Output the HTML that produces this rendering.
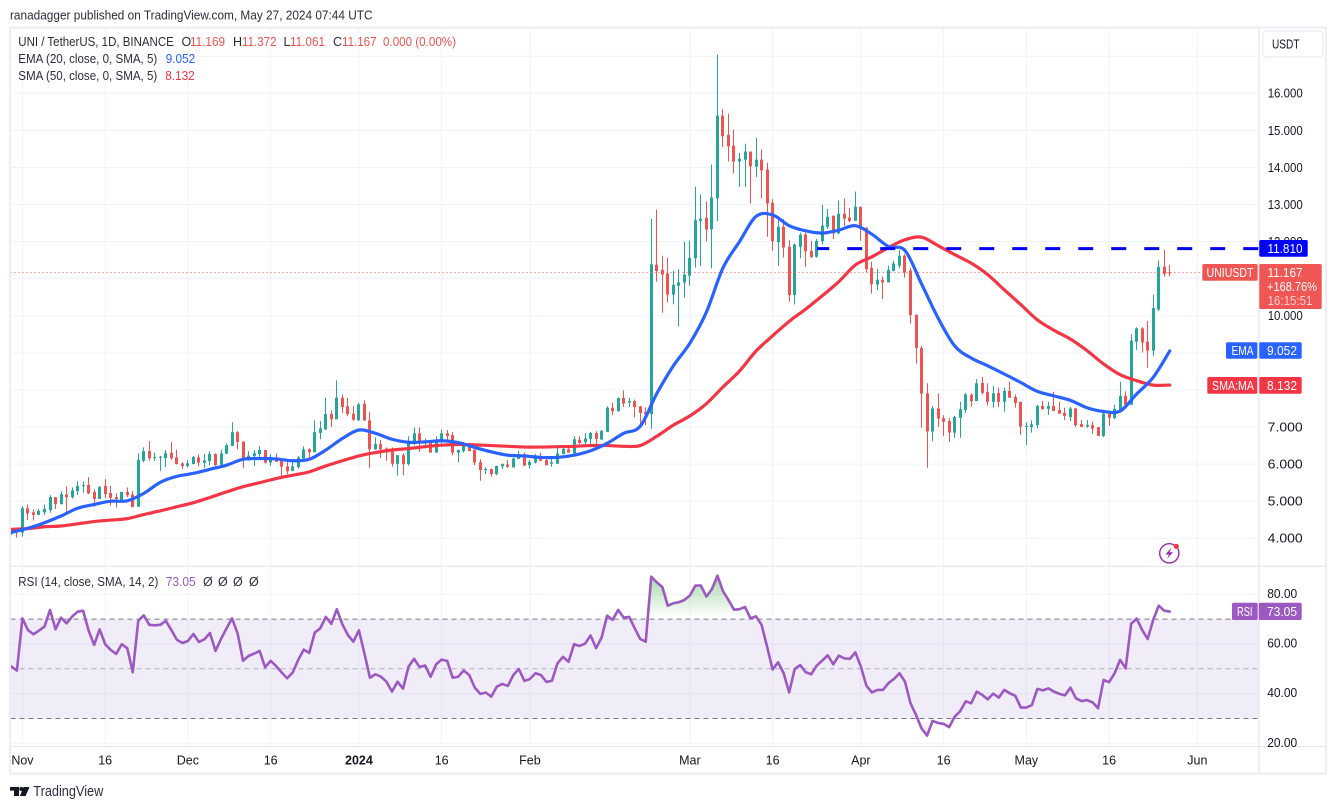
<!DOCTYPE html>
<html lang="en">
<head>
<meta charset="utf-8">
<title>UNI / TetherUS chart</title>
<style>
html,body{margin:0;padding:0;background:#fff;}
body{width:1337px;height:809px;overflow:hidden;}
svg{display:block;font-family:"Liberation Sans","DejaVu Sans",sans-serif;}
</style>
</head>
<body>
<svg id="chart" xmlns="http://www.w3.org/2000/svg" width="1337" height="809" viewBox="0 0 1337 809">
  <defs>
    <clipPath id="plot-clip"><rect x="10.5" y="28" width="1248.5" height="538"/></clipPath>
    <clipPath id="rsi-clip"><rect x="10.5" y="567" width="1248.5" height="179"/></clipPath>
    <clipPath id="ob-clip"><rect x="10.5" y="567" width="1248.5" height="52"/></clipPath>
    <clipPath id="os-clip"><rect x="10.5" y="718.5" width="1248.5" height="27"/></clipPath>
    <linearGradient id="ob-grad" gradientUnits="userSpaceOnUse" x1="0" y1="575" x2="0" y2="617">
      <stop offset="0" stop-color="#4caf50" stop-opacity="0.5"/>
      <stop offset="1" stop-color="#4caf50" stop-opacity="0"/>
    </linearGradient>
    <linearGradient id="os-grad" gradientUnits="userSpaceOnUse" x1="0" y1="719" x2="0" y2="740">
      <stop offset="0" stop-color="#ef5350" stop-opacity="0"/>
      <stop offset="1" stop-color="#ef5350" stop-opacity="0.2"/>
    </linearGradient>
  </defs>

  <text x="10" y="19.5" font-size="13" fill="#2a2e39" textLength="362.5" lengthAdjust="spacingAndGlyphs">ranadagger published on TradingView.com, May 27, 2024 07:44 UTC</text>

  <g id="grid"></g>

  <rect x="10.5" y="619.1" width="1248.5" height="99.4" fill="#7e57c2" fill-opacity="0.11"/>
  <g id="rsi-levels"></g>

  <g id="candles" clip-path="url(#plot-clip)"></g>
  <g id="lines" clip-path="url(#plot-clip)"></g>
  <g id="annotations" clip-path="url(#plot-clip)"></g>
  <g id="rsi" clip-path="url(#rsi-clip)"></g>

  <rect x="10" y="27.5" width="1316" height="746" fill="none" stroke="#eceef4" stroke-width="2"/>
  <line x1="1259" y1="28" x2="1259" y2="773" stroke="#e0e3eb" stroke-width="1"/>
  <line x1="10" y1="566.2" x2="1326" y2="566.2" stroke="#e0e3eb" stroke-width="1"/>
  <line x1="10" y1="746.6" x2="1326" y2="746.6" stroke="#e0e3eb" stroke-width="1"/>

  <g id="price-axis"></g>
  <g id="rsi-axis"></g>
  <g id="time-axis"></g>

  <g>
    <rect x="1263" y="31" width="60" height="26" rx="4" fill="#fff" stroke="#eceef4" stroke-width="1.4"/>
    <text x="1272" y="48.5" font-size="12.5" fill="#131722" textLength="27.5" lengthAdjust="spacingAndGlyphs">USDT</text>
  </g>

  <g font-size="12.5">
    <text x="18.3" y="46" fill="#2a2e39" textLength="155.5" lengthAdjust="spacingAndGlyphs">UNI / TetherUS, 1D, BINANCE</text>
    <text x="181.5" y="46" fill="#2a2e39">O</text><text x="190" y="46" fill="#ef5350" textLength="35" lengthAdjust="spacingAndGlyphs">11.169</text>
    <text x="233" y="46" fill="#2a2e39">H</text><text x="242" y="46" fill="#ef5350" textLength="34.5" lengthAdjust="spacingAndGlyphs">11.372</text>
    <text x="283.5" y="46" fill="#2a2e39">L</text><text x="290" y="46" fill="#ef5350" textLength="35" lengthAdjust="spacingAndGlyphs">11.061</text>
    <text x="333" y="46" fill="#2a2e39">C</text><text x="342" y="46" fill="#ef5350" textLength="34.5" lengthAdjust="spacingAndGlyphs">11.167</text>
    <text x="383" y="46" fill="#ef5350" textLength="73" lengthAdjust="spacingAndGlyphs">0.000 (0.00%)</text>
  </g>
  <g font-size="12.5">
    <text x="18.3" y="63" fill="#2a2e39" textLength="139" lengthAdjust="spacingAndGlyphs">EMA (20, close, 0, SMA, 5)</text>
    <text x="165.7" y="63" fill="#2962ff" textLength="29.5" lengthAdjust="spacingAndGlyphs">9.052</text>
  </g>
  <g font-size="12.5">
    <text x="18.3" y="80" fill="#2a2e39" textLength="139" lengthAdjust="spacingAndGlyphs">SMA (50, close, 0, SMA, 5)</text>
    <text x="165.2" y="80" fill="#f23645" textLength="29.5" lengthAdjust="spacingAndGlyphs">8.132</text>
  </g>
  <g font-size="12.5">
    <text x="18.3" y="586" fill="#2a2e39" textLength="140" lengthAdjust="spacingAndGlyphs">RSI (14, close, SMA, 14, 2)</text>
    <text x="165.7" y="586" fill="#9c59c1" textLength="30" lengthAdjust="spacingAndGlyphs">73.05</text>
    <text x="203" y="586" fill="#2a2e39">Ø</text><text x="218" y="586" fill="#2a2e39">Ø</text><text x="233" y="586" fill="#2a2e39">Ø</text><text x="249" y="586" fill="#2a2e39">Ø</text>
  </g>

  <g>
    <rect x="1259.3" y="240" width="48.4" height="16.7" rx="1.5" fill="#0000ff"/>
    <text x="1267.5" y="253" font-size="12.5" fill="#fff" textLength="35" lengthAdjust="spacingAndGlyphs">11.810</text>
  </g>
  <g>
    <rect x="1202.3" y="264" width="55.4" height="16.7" rx="1.5" fill="#f05654"/>
    <text x="1206.5" y="276.8" font-size="12.5" fill="#fff" textLength="47" lengthAdjust="spacingAndGlyphs">UNIUSDT</text>
  </g>
  <g>
    <rect x="1259.3" y="264" width="62.4" height="45" rx="1.5" fill="#f05654"/>
    <text x="1267.5" y="276.8" font-size="12.5" fill="#fff" textLength="35" lengthAdjust="spacingAndGlyphs">11.167</text>
    <text x="1267" y="291" font-size="12.5" fill="#fff" textLength="50" lengthAdjust="spacingAndGlyphs">+168.76%</text>
    <text x="1267.5" y="305" font-size="12.5" fill="#fbd0cf" textLength="45" lengthAdjust="spacingAndGlyphs">16:15:51</text>
  </g>
  <g>
    <rect x="1226" y="342.3" width="31.4" height="16.4" rx="1.5" fill="#2962ff"/>
    <rect x="1259.3" y="342.3" width="42.4" height="16.4" rx="1.5" fill="#2962ff"/>
    <text x="1231.5" y="355" font-size="12.5" fill="#fff" textLength="22" lengthAdjust="spacingAndGlyphs">EMA</text>
    <text x="1267" y="355" font-size="12.5" fill="#fff" textLength="30" lengthAdjust="spacingAndGlyphs">9.052</text>
  </g>
  <g>
    <rect x="1207.3" y="377" width="50" height="16.7" rx="1.5" fill="#f23645"/>
    <rect x="1259.3" y="377" width="42.4" height="16.7" rx="1.5" fill="#f23645"/>
    <text x="1212" y="389.8" font-size="12.5" fill="#fff" textLength="42" lengthAdjust="spacingAndGlyphs">SMA:MA</text>
    <text x="1267" y="389.8" font-size="12.5" fill="#fff" textLength="30" lengthAdjust="spacingAndGlyphs">8.132</text>
  </g>
  <g>
    <rect x="1232" y="602.7" width="25.7" height="17.3" rx="1.5" fill="#9c59c1"/>
    <rect x="1258.7" y="602.7" width="43" height="17.3" rx="1.5" fill="#9c59c1"/>
    <text x="1237" y="616" font-size="12.5" fill="#fff" textLength="15.5" lengthAdjust="spacingAndGlyphs">RSI</text>
    <text x="1267" y="616" font-size="12.5" fill="#fff" textLength="30" lengthAdjust="spacingAndGlyphs">73.05</text>
  </g>

  <g>
    <circle cx="1169.3" cy="553.3" r="9.6" fill="#fff" stroke="#9c27b0" stroke-width="1.4"/>
    <path d="M1171.5 547.5 L1165.5 554.5 L1169 554.5 L1167 559 L1173 552.3 L1169.6 552.3 Z" fill="#9c27b0"/>
    <circle cx="1176.3" cy="546.3" r="2.6" fill="#f23645"/>
  </g>

  <g>
    <path d="M10 787 H19 V796 H14 V790.6 H10 Z" fill="#131722"/>
    <circle cx="21.3" cy="789" r="2" fill="#131722"/>
    <path d="M23.5 787 H29.5 L25.6 796 H19.9 Z" fill="#131722"/>
    <text x="33.3" y="796" font-size="14.5" fill="#2a2e39" textLength="70" lengthAdjust="spacingAndGlyphs">TradingView</text>
  </g>
</svg>

<script>
// Candle data, one value per daily bar, starting 30 Oct 2023
const opens = [
4.13,4.21,4.15,4.81,4.70,4.63,4.70,4.76,5.11,4.92,
5.18,5.11,5.27,5.41,5.44,5.25,5.06,5.41,5.22,5.11,
5.02,5.25,5.18,4.85,6.09,6.35,6.17,6.18,6.16,6.30,
6.18,6.02,5.95,6.00,6.18,6.03,6.08,6.27,5.98,6.28,
6.49,6.86,6.61,6.10,6.22,6.27,6.38,6.04,6.18,6.09,
5.94,5.82,5.92,6.15,6.40,6.32,6.84,6.94,7.35,7.21,
7.79,7.56,7.36,7.18,7.63,7.18,6.40,6.54,6.42,6.33,
6.01,6.24,6.00,6.54,6.83,6.56,6.63,6.31,6.65,6.83,
6.78,6.31,6.35,6.51,6.39,6.05,5.84,5.87,5.73,5.94,
5.99,5.91,6.14,6.27,5.97,6.04,6.15,6.11,6.01,6.01,
6.27,6.40,6.29,6.66,6.59,6.68,6.84,6.66,6.87,7.52,
7.43,7.78,7.66,7.70,7.56,7.40,7.35,11.38,11.24,11.14,
10.57,10.81,10.90,11.08,11.55,12.56,12.64,12.33,13.17,15.40,
14.88,14.59,14.16,14.21,14.43,14.02,14.21,13.94,13.05,11.99,
12.40,11.86,10.56,11.86,12.19,11.75,11.59,12.01,12.40,12.70,
12.22,12.75,12.65,12.56,12.94,12.38,11.29,10.84,10.97,10.90,
11.21,11.35,11.62,11.22,10.03,9.13,7.91,6.88,7.50,7.24,
7.16,6.85,7.25,7.46,7.87,7.70,8.19,7.94,7.68,7.92,
7.68,7.97,7.81,7.68,7.00,7.00,7.05,7.57,7.49,7.57,
7.46,7.38,7.27,7.50,7.08,7.01,7.05,7.00,6.76,7.36,
7.24,7.46,7.84,7.60,9.30,9.66,9.30,9.06,10.17,11.32,
11.169];
const highs = [
4.27,4.22,4.87,4.91,4.78,4.79,4.91,5.16,5.11,5.27,
5.40,5.37,5.54,5.53,5.65,5.32,5.41,5.60,5.41,5.21,
5.25,5.37,5.27,6.29,6.45,6.62,6.31,6.22,6.38,6.59,
6.39,6.05,6.11,6.22,6.26,6.27,6.35,6.29,6.39,6.56,
7.13,6.89,6.61,6.35,6.38,6.48,6.38,6.27,6.29,6.13,
6.05,6.13,6.22,6.48,6.43,7.18,7.16,7.79,7.45,8.26,
7.88,7.79,7.56,7.65,7.72,7.40,6.72,6.65,6.45,6.45,
6.24,6.29,6.75,6.99,6.99,6.69,6.65,6.75,6.93,6.92,
6.87,6.39,6.60,6.57,6.39,6.13,5.91,5.88,5.96,6.02,
6.11,6.17,6.35,6.31,6.11,6.27,6.31,6.15,6.18,6.45,
6.48,6.45,6.75,6.75,6.84,6.87,6.89,6.92,7.56,7.66,
7.80,7.99,7.79,7.74,7.56,7.53,12.61,12.86,11.62,11.56,
11.21,11.26,12.00,12.02,13.48,13.27,13.08,14.08,17.05,15.57,
15.45,15.02,14.39,14.64,14.43,14.80,14.48,14.13,13.15,12.64,
12.61,12.04,11.95,12.24,12.24,12.02,12.07,12.99,12.88,12.70,
13.11,13.16,12.91,13.35,12.94,12.38,11.46,11.26,11.06,11.35,
11.48,11.77,11.66,11.29,10.03,9.18,8.18,7.57,7.91,7.32,
7.24,7.30,7.68,7.92,7.91,8.29,8.35,8.18,8.11,8.06,
8.06,8.22,7.88,7.68,7.13,7.18,7.60,7.70,7.68,7.95,
7.68,7.52,7.54,7.52,7.19,7.19,7.15,7.00,7.39,7.43,
7.60,8.22,7.96,9.50,9.69,9.69,9.86,10.57,11.49,11.78,
11.372];
const lows = [
4.09,4.02,4.04,4.49,4.48,4.63,4.63,4.69,4.79,4.91,
4.72,5.07,5.17,5.23,5.19,4.85,5.06,5.08,4.88,4.83,
4.96,5.11,4.84,4.85,6.05,6.09,6.09,5.81,5.92,6.11,
5.99,5.87,5.91,6.00,5.94,5.89,5.97,5.95,5.95,6.27,
6.49,6.40,5.90,6.09,5.95,6.11,6.01,5.95,6.06,5.61,
5.73,5.81,5.88,6.13,6.11,6.32,6.67,6.92,7.00,7.21,
7.38,7.29,7.16,7.17,7.16,5.90,6.38,6.17,6.09,5.93,
5.69,5.70,5.96,6.51,6.33,6.42,6.31,6.31,6.47,6.66,
6.24,6.05,6.31,6.35,5.97,5.55,5.73,5.66,5.70,5.87,
5.90,5.91,6.13,5.95,5.88,6.02,6.08,5.96,5.93,6.00,
6.26,6.31,6.29,6.54,6.54,6.48,6.48,6.66,6.87,7.32,
7.41,7.54,7.54,7.26,7.08,7.05,6.95,10.92,10.08,10.36,
10.31,9.71,10.49,10.81,11.30,11.35,12.00,11.28,12.55,14.55,
14.16,13.84,13.48,13.48,13.03,13.74,13.17,12.13,11.75,11.35,
11.57,10.38,10.31,11.55,11.32,11.56,11.57,11.92,12.34,12.07,
12.20,12.43,12.52,12.56,12.02,11.17,10.60,10.69,10.45,10.90,
11.20,11.28,11.03,9.79,8.71,6.98,5.90,6.62,7.00,6.76,
6.60,6.71,6.71,7.38,7.55,7.70,7.88,7.58,7.52,7.54,
7.41,7.79,7.52,6.79,6.51,6.85,6.96,7.46,7.33,7.43,
7.36,7.19,7.16,7.00,7.00,6.98,6.82,6.76,6.73,7.03,
7.21,7.43,7.57,7.60,9.08,9.01,8.60,8.92,10.13,11.06,
11.061];
const closes = [
4.24,4.15,4.81,4.67,4.63,4.74,4.79,5.11,4.92,5.19,
5.11,5.29,5.41,5.43,5.21,5.06,5.38,5.19,5.09,5.06,
5.25,5.16,4.84,6.11,6.35,6.16,6.19,6.20,6.29,6.16,
6.00,5.95,6.02,6.19,6.04,6.10,6.27,5.97,6.29,6.51,
6.86,6.60,6.11,6.23,6.29,6.38,6.04,6.15,6.06,5.93,
5.81,5.94,6.18,6.40,6.32,6.86,6.96,7.35,7.21,7.79,
7.54,7.35,7.20,7.61,7.18,6.40,6.54,6.40,6.31,6.01,
6.24,6.00,6.57,6.83,6.57,6.63,6.31,6.66,6.83,6.76,
6.31,6.38,6.51,6.35,6.04,5.84,5.87,5.73,5.95,6.00,
5.93,6.15,6.27,5.96,6.06,6.15,6.09,5.97,6.05,6.29,
6.41,6.31,6.67,6.57,6.69,6.84,6.68,6.89,7.52,7.43,
7.78,7.63,7.70,7.54,7.38,7.34,11.39,11.21,11.11,10.57,
10.83,10.90,11.11,11.56,12.58,12.62,12.33,13.19,15.40,14.84,
14.57,14.16,14.24,14.43,14.03,14.21,13.92,13.03,12.01,12.40,
11.84,10.56,11.92,12.19,11.74,11.59,12.02,12.43,12.67,12.22,
12.75,12.62,12.56,12.94,12.38,11.26,10.85,10.97,10.90,11.24,
11.41,11.62,11.17,10.02,9.13,7.90,6.88,7.50,7.23,7.14,
6.85,7.27,7.48,7.88,7.70,8.18,7.92,7.68,7.91,7.68,
7.97,7.79,7.65,7.01,7.03,7.07,7.57,7.49,7.57,7.43,
7.36,7.30,7.50,7.05,7.00,7.05,6.96,6.76,7.36,7.25,
7.49,7.84,7.60,9.33,9.66,9.28,9.06,10.21,11.32,11.13,
11.167];

// Moving averages, read at every third bar
const maBarStep = 3;
const emaValues = [
4.16,4.27,4.42,4.60,4.81,4.91,5.00,5.01,5.21,5.51,
5.67,5.75,5.86,5.97,6.13,6.15,6.14,6.09,6.13,6.38,
6.69,6.92,6.83,6.67,6.59,6.60,6.63,6.58,6.45,6.33,
6.24,6.22,6.18,6.18,6.24,6.36,6.56,6.83,7.02,7.90,
8.65,9.26,10.10,11.29,12.00,12.68,12.72,12.43,12.29,12.23,
12.31,12.43,12.20,11.87,11.76,10.86,9.94,9.19,8.86,8.65,
8.43,8.20,7.96,7.84,7.72,7.52,7.42,7.43,7.89,8.34,
9.052];
const smaValues = [
4.24,4.26,4.31,4.33,4.39,4.45,4.49,4.53,4.64,4.74,
4.85,4.96,5.10,5.25,5.39,5.50,5.61,5.70,5.79,5.95,
6.09,6.22,6.31,6.38,6.42,6.47,6.51,6.53,6.52,6.50,
6.48,6.46,6.46,6.47,6.48,6.50,6.50,6.48,6.50,6.75,
7.05,7.30,7.63,8.08,8.51,9.05,9.46,9.85,10.18,10.54,
10.92,11.37,11.59,11.84,12.05,12.12,11.89,11.65,11.42,11.11,
10.70,10.30,9.89,9.61,9.37,9.06,8.70,8.41,8.25,8.13,
8.132];

// RSI per bar
const rsiValues = [
50.9,49.3,70.3,65.6,63.9,65.4,67.0,73.7,65.9,70.6,
68.3,71.0,73.0,73.4,65.4,59.6,65.9,59.9,57.6,56.0,
59.9,58.3,48.6,69.4,71.5,67.7,67.5,67.7,69.3,65.6,
61.7,60.4,61.2,64.0,60.8,61.9,64.4,57.2,62.0,66.3,
70.3,64.3,53.2,55.2,56.1,57.2,50.6,53.2,51.1,48.5,
46.2,48.5,53.6,57.7,56.4,64.6,66.3,70.9,68.1,74.0,
67.9,63.6,60.9,65.5,56.2,46.4,47.8,46.8,44.8,40.8,
44.8,42.0,50.9,54.0,50.7,51.3,46.8,51.8,
53.7,53.2,46.4,46.8,49.3,47.5,42.4,39.9,40.4,38.8,
42.8,43.9,43.1,47.5,49.9,45.1,45.9,48.2,47.5,44.7,
45.2,52.2,54.8,52.8,59.9,59.2,60.1,63.4,58.3,62.6,
71.4,69.7,73.7,70.6,70.9,66.3,62.0,60.9,87.1,84.8,
83.0,75.4,76.4,76.8,77.7,79.5,83.5,83.5,79.1,82.1,
87.5,81.3,77.7,73.8,74.0,74.9,70.3,71.1,67.7,58.9,
49.7,52.6,48.2,40.5,49.9,51.5,48.6,47.8,51.3,53.3,
55.4,51.8,55.3,54.2,54.0,56.6,50.9,43.2,40.5,41.5,
41.5,44.2,45.9,48.2,44.8,36.1,31.4,26.0,23.1,29.0,
28.2,27.8,26.5,30.7,32.9,36.9,36.1,40.8,39.5,37.7,
40.0,38.4,41.5,40.1,39.1,34.4,34.4,35.4,41.9,41.3,
42.1,40.8,39.9,39.3,42.4,38.1,37.0,37.4,36.5,34.1,
45.5,44.6,48.2,53.6,50.2,68.1,70.2,65.6,62.0,69.7,
75.4,73.4,73.05];

// Axis ticks
const priceGridValues = [4,5,6,7,8,9,10,11,12,13,14,15,16,17];
const priceTickValues = [4,5,6,7,10,12,13,14,15,16];
const rsiGridValues = [80,60,40,20];
const rsiTickLabels = ["80.00","60.00","40.00","20.00"];
const timeTickBars = [2,17,32,47,63,78,94,123,138,154,169,184,199,215];
const timeTickLabels = ["Nov","16","Dec","16","2024","16","Feb","Mar","16","Apr","16","May","16","Jun"];
const boldTimeLabels = ["2024"];

// Annotations
const resistanceLevel = 11.81;
const resistanceStartBar = 146;
const lastPrice = 11.167;
const rsiUpperLevel = 70;
const rsiMiddleLevel = 50;
const rsiLowerLevel = 30;

// Axis functions
function xOf(bar){ return 11.4 + 5.516 * bar; }
function yOf(price){ return 93.3 + 37.08 * (16 - price); }
function rsiY(value){ return 594.3 + 2.483 * (80 - value); }

const NS = 'http://www.w3.org/2000/svg';
function make(tag, parent, attrs){
  const node = document.createElementNS(NS, tag);
  for (const k in attrs) node.setAttribute(k, attrs[k]);
  parent.appendChild(node);
  return node;
}

const gridG = document.getElementById('grid');
for (const p of priceGridValues){
  const el = make('line', gridG, {x1:10.5, x2:1259, y1:yOf(p), y2:yOf(p), stroke:'#f0f3fa', 'stroke-width':1});
  
  
}
for (const v of rsiGridValues){
  const el = make('line', gridG, {x1:10.5, x2:1259, y1:rsiY(v), y2:rsiY(v), stroke:'#f0f3fa', 'stroke-width':1});
  
  
}
for (const b of timeTickBars){
  const upper = make('line', gridG, {x1:xOf(b), x2:xOf(b), y1:28, y2:566, stroke:'#f0f3fa', 'stroke-width':1});
  
  
  const lower = make('line', gridG, {x1:xOf(b), x2:xOf(b), y1:566, y2:746, stroke:'#f0f3fa', 'stroke-width':1});
  
  
}

const candlesG = document.getElementById('candles');
for (let i = 0; i < closes.length; i++){
  const color = closes[i] >= opens[i] ? '#26a69a' : '#ef5350';
  const bodyX = Math.round(xOf(i) - 1.5);
  const wick = make('rect', candlesG, {x:bodyX + 1, y:yOf(highs[i]), width:1, height:yOf(lows[i]) - yOf(highs[i]), fill:color});
  
  
  const top = yOf(Math.max(opens[i], closes[i]));
  const bottom = yOf(Math.min(opens[i], closes[i]));
  const body = make('rect', candlesG, {x:bodyX, y:top, width:3, height:Math.max(bottom-top, 1), fill:color});
  
  
}

function linePoints(values, step, yFn){
  return values.map((v, i) => xOf(i * step).toFixed(2) + ',' + yFn(v).toFixed(2)).join(' ');
}
function smoothPath(values, step, yFn){
  const pts = values.map((v, i) => [xOf(i * step), yFn(v)]);
  let d = 'M' + pts[0][0].toFixed(2) + ' ' + pts[0][1].toFixed(2);
  for (let i = 0; i < pts.length - 1; i++){
    const p0 = pts[Math.max(i - 1, 0)];
    const p1 = pts[i];
    const p2 = pts[i + 1];
    const p3 = pts[Math.min(i + 2, pts.length - 1)];
    const c1x = p1[0] + (p2[0] - p0[0]) / 6;
    const c1y = p1[1] + (p2[1] - p0[1]) / 6;
    const c2x = p2[0] - (p3[0] - p1[0]) / 6;
    const c2y = p2[1] - (p3[1] - p1[1]) / 6;
    d += ' C' + c1x.toFixed(2) + ' ' + c1y.toFixed(2) + ' ' + c2x.toFixed(2) + ' ' + c2y.toFixed(2) + ' ' + p2[0].toFixed(2) + ' ' + p2[1].toFixed(2);
  }
  return d;
}
const linesG = document.getElementById('lines');
const smaLine = make('path', linesG, {d:smoothPath(smaValues, maBarStep, yOf), fill:'none', stroke:'#f23645', 'stroke-width':3.2, 'stroke-linejoin':'round', 'stroke-linecap':'round'});


const emaLine = make('path', linesG, {d:smoothPath(emaValues, maBarStep, yOf), fill:'none', stroke:'#2962ff', 'stroke-width':3.2, 'stroke-linejoin':'round', 'stroke-linecap':'round'});



const annG = document.getElementById('annotations');
const lastLine = make('line', annG, {x1:10.5, x2:1259, y1:yOf(lastPrice), y2:yOf(lastPrice), stroke:'#ef5350', 'stroke-width':1, 'stroke-dasharray':'1 3'});


const resLine = make('line', annG, {x1:xOf(resistanceStartBar)+0.2, x2:1259, y1:yOf(resistanceLevel), y2:yOf(resistanceLevel), stroke:'#0000ff', 'stroke-width':3, 'stroke-dasharray':'15 18', 'stroke-dashoffset':2.7});



const levelsG = document.getElementById('rsi-levels');
const upperLevel = make('line', levelsG, {x1:10.5, x2:1259, y1:rsiY(rsiUpperLevel), y2:rsiY(rsiUpperLevel), stroke:'#787b86', 'stroke-width':1, 'stroke-dasharray':'5 4'});


const middleLevel = make('line', levelsG, {x1:10.5, x2:1259, y1:rsiY(rsiMiddleLevel), y2:rsiY(rsiMiddleLevel), stroke:'#787b86', 'stroke-opacity':0.55, 'stroke-width':1, 'stroke-dasharray':'5 4'});


const lowerLevel = make('line', levelsG, {x1:10.5, x2:1259, y1:rsiY(rsiLowerLevel), y2:rsiY(rsiLowerLevel), stroke:'#787b86', 'stroke-width':1, 'stroke-dasharray':'5 4'});



const rsiG = document.getElementById('rsi');
function areaPath(level){
  const pts = rsiValues.map((v, i) => xOf(i).toFixed(2) + ' ' + rsiY(v).toFixed(2));
  return 'M' + xOf(0).toFixed(2) + ' ' + rsiY(level).toFixed(2) + ' L' + pts.join(' L') + ' L' + xOf(rsiValues.length - 1).toFixed(2) + ' ' + rsiY(level).toFixed(2) + ' Z';
}
const obFill = make('path', rsiG, {d:areaPath(rsiUpperLevel), fill:'url(#ob-grad)', 'clip-path':'url(#ob-clip)'});


const osFill = make('path', rsiG, {d:areaPath(rsiLowerLevel), fill:'url(#os-grad)', 'clip-path':'url(#os-clip)'});


const rsiLine = make('polyline', rsiG, {points:linePoints(rsiValues, 1, rsiY), fill:'none', stroke:'#9c59c1', 'stroke-width':2.6, 'stroke-linejoin':'round', 'stroke-linecap':'round'});



const priceAxisG = document.getElementById('price-axis');
for (const p of priceTickValues){
  const el = make('text', priceAxisG, {x:1267.7, y:yOf(p)+4.4, 'font-size':12.5, fill:'#131722', textLength:35, lengthAdjust:'spacingAndGlyphs'});
  el.textContent = p.toFixed(3);
  
  
}
const rsiAxisG = document.getElementById('rsi-axis');
rsiGridValues.forEach((v, i) => {
  const el = make('text', rsiAxisG, {x:1267.2, y:rsiY(v)+3.6, 'font-size':12.5, fill:'#131722', textLength:30, lengthAdjust:'spacingAndGlyphs'});
  el.textContent = rsiTickLabels[i];
  
  
});
const timeAxisG = document.getElementById('time-axis');
timeTickBars.forEach((b, i) => {
  const label = timeTickLabels[i];
  const el = make('text', timeAxisG, {x:xOf(b), y:764.4, 'font-size':12.5, 'text-anchor':'middle', fill:'#131722', 'font-weight':boldTimeLabels.includes(label) ? 'bold' : 'normal'});
  el.textContent = label;
  
  
});
</script>
</body>
</html>
